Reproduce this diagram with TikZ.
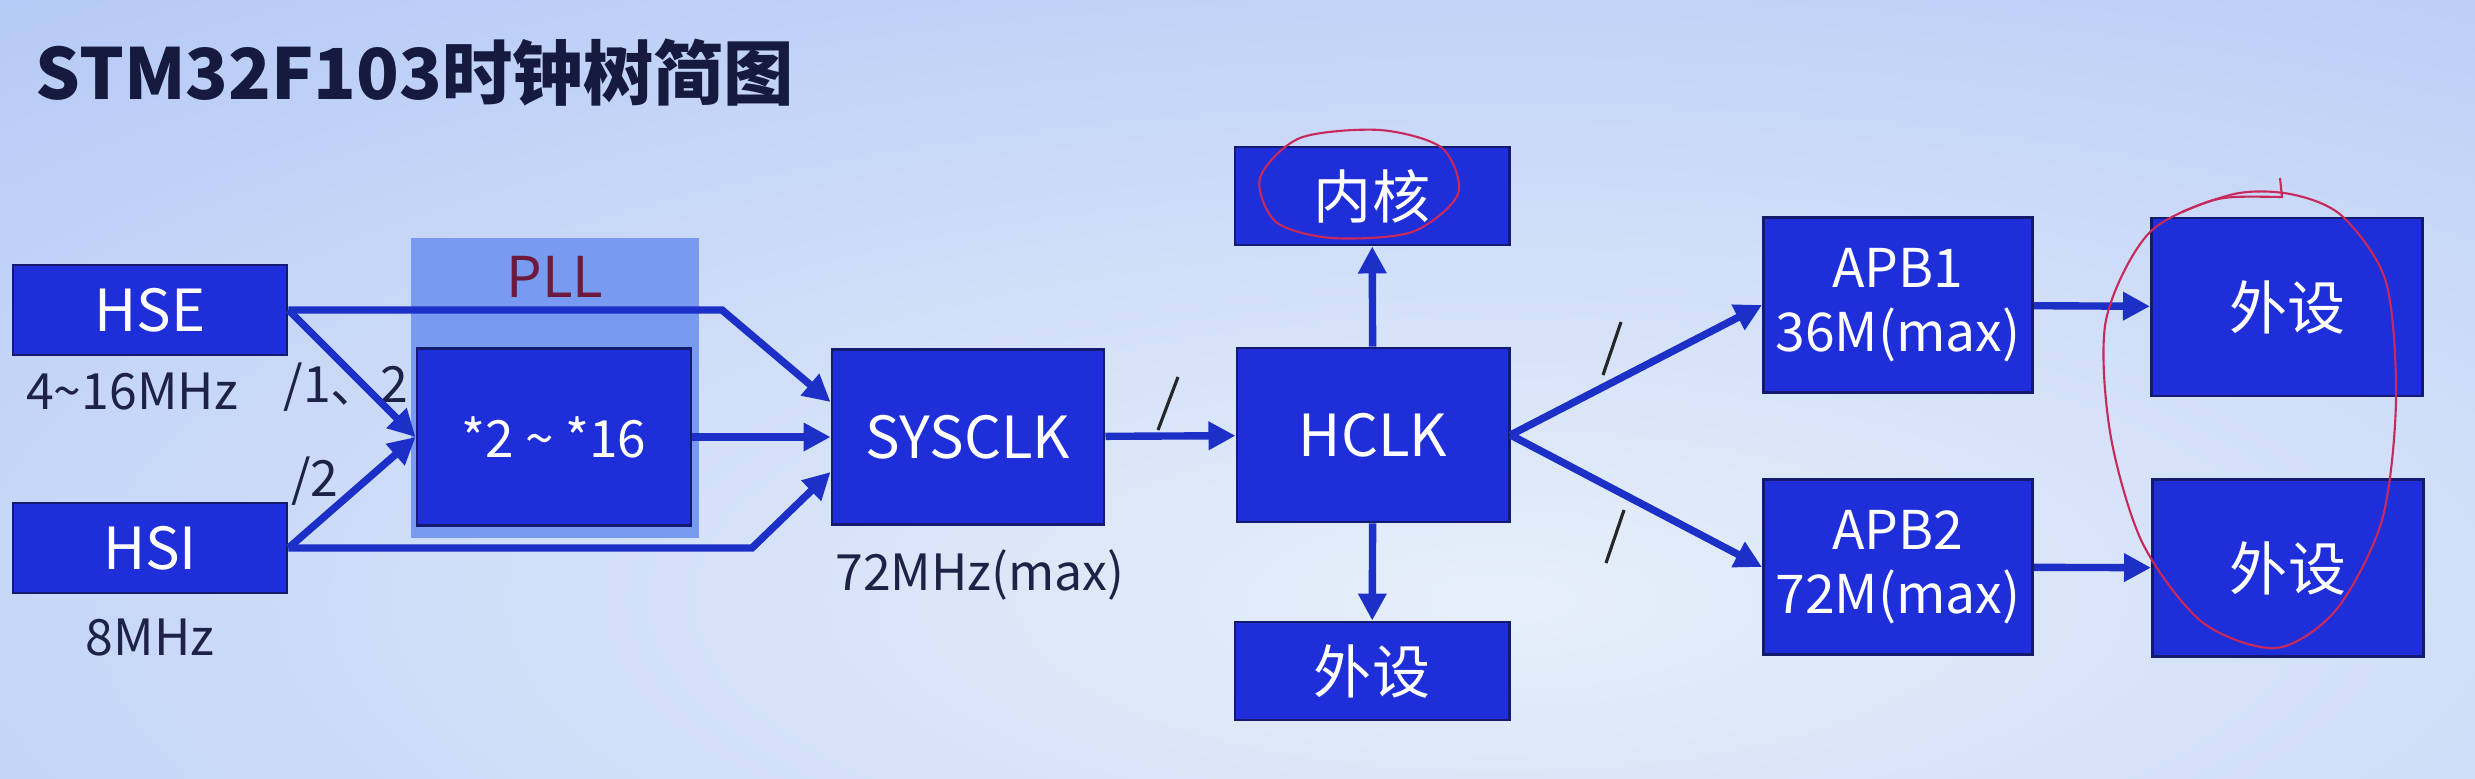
\documentclass[tikz,border=0pt]{standalone}
\usepackage{fontspec}
\setmainfont{Noto Sans CJK SC}
\usetikzlibrary{arrows.meta,positioning}

\definecolor{boxblue}{RGB}{30,46,216}
\definecolor{boxedge}{RGB}{20,26,110}
\definecolor{linkblue}{RGB}{28,48,200}
\definecolor{pllbg}{RGB}{120,154,240}
\definecolor{plltext}{RGB}{110,26,60}
\definecolor{inkred}{RGB}{200,40,90}
\definecolor{titlenavy}{RGB}{22,26,62}
\definecolor{labeltext}{RGB}{30,34,70}
\definecolor{bglight}{RGB}{230,239,249}
\definecolor{bgdark}{RGB}{178,199,246}

\begin{document}
\begin{tikzpicture}[
  x=0.01cm, y=-0.01cm,
  blk/.style={draw=boxedge, line width=0.8pt, fill=boxblue, text=white, inner sep=0pt, align=center, font=\fontsize{16.5}{18}\selectfont},
  group/.style={fill=pllbg, inner sep=0pt, minimum width=2.87cm, minimum height=3cm},
  note/.style={inner sep=0pt, text=labeltext, font=\fontsize{14.2}{16}\selectfont},
  arrow/.style={-{Triangle[length=2.7mm,width=2.7mm]}, line width=2.1pt, draw=linkblue},
  tick/.style={line width=0.9pt, draw=black!85},
  ink/.style={draw=inkred, line width=0.6pt}
]
\useasboundingbox (0,0) rectangle (2475,778);
\begin{scope}
  \clip (0,0) rectangle (2475,778);
  \shade[inner color=bglight, outer color=bgdark] (-900,-250) rectangle (3900,1450);
\end{scope}

\node[anchor=base west, inner sep=0pt, text=titlenavy, font=\fontsize{20}{24}\selectfont\bfseries] (title) at (35,99) {STM32F103时钟树简图};

% sources and PLL
\node[group] (pll) at (555,388) {};
\node[inner sep=0pt, anchor=north, text=plltext, font=\fontsize{16}{18}\selectfont] (plltag) at ([yshift=-1.8mm]pll.north) {PLL};
\node[blk, minimum width=2.74cm, minimum height=0.9cm] (hse) at (150,310) {HSE};
\node[blk, minimum width=2.74cm, minimum height=0.9cm] (hsi) at (150,548) {HSI};
\node[blk, minimum width=2.74cm, minimum height=1.77cm, font=\fontsize{14.6}{16}\selectfont] (mul) at (554,437) {*2 \textasciitilde{} *16};
\node[note, below=1.6mm of hse, xshift=-1.8mm] (hsefreq) {4\textasciitilde16MHz};
\node[note, below=2.4mm of hsi] (hsifreq) {8MHz};
\node[note] (hsediv) at (346,387) {/1、2};
\node[note] (hsidiv) at (315,481) {/2};

% system clock
\node[blk, minimum width=2.72cm, minimum height=1.75cm] (sysclk) at (968,437) {SYSCLK};
\node[note, below=2.3mm of sysclk, xshift=1.2mm] (sysfreq) {72MHz(max)};
\node[blk, minimum width=2.72cm, minimum height=1.74cm] (hclk) at (1373,435) {HCLK};
\node[blk, minimum width=2.74cm, minimum height=0.98cm] (core) at (1372,196) {内核};
\node[blk, minimum width=2.74cm, minimum height=0.98cm] (per0) at (1372,671) {外设};

% buses
\node[blk, minimum width=2.69cm, minimum height=1.75cm, font=\fontsize{15.2}{18}\selectfont] (apb1) at (1898,305) {APB1\\36M(max)};
\node[blk, minimum width=2.69cm, minimum height=1.75cm, font=\fontsize{15.2}{18}\selectfont] (apb2) at (1898,567) {APB2\\72M(max)};
\node[blk, minimum width=2.71cm, minimum height=1.78cm] (per1) at (2287,307) {外设};
\node[blk, minimum width=2.71cm, minimum height=1.77cm] (per2) at (2288,568) {外设};

\coordinate (hsebend) at (722,310);
\coordinate (hsibend) at (752,548);
\draw[arrow] (hse.east) -- (hsebend) -- ([yshift=3.5mm]sysclk.west);
\draw[arrow] (hse.east) -- (mul.west);
\draw[arrow] (hsi.east) -- (mul.west);
\draw[arrow] (hsi.east) -- (hsibend) -- ([yshift=-3.5mm]sysclk.west);
\draw[arrow] (mul) -- (sysclk);
\draw[arrow] (sysclk) -- (hclk);
\draw[arrow] (hclk) -- (core);
\draw[arrow] (hclk) -- (per0);
\draw[arrow] (hclk.east) -- (apb1.west);
\draw[arrow] (hclk.east) -- (apb2.west);
\draw[arrow] (apb1) -- (per1);
\draw[arrow] (apb2) -- (per2);

% prescaler marks
\draw[tick] (1158,430) -- (1178,377);
\draw[tick] (1603,375) -- (1621,322);
\draw[tick] (1606,563) -- (1624,510);

% pen marks
\draw[ink] plot[smooth cycle] coordinates {(1300,138) (1260,178) (1276,222) (1332,238) (1412,232) (1458,194) (1442,148) (1380,130)};
\draw[ink] plot[smooth cycle] coordinates {(2230,195) (2150,232) (2106,320) (2110,432) (2142,542) (2202,622) (2276,648) (2336,610) (2382,520) (2396,400) (2386,282) (2342,216) (2290,194)};
\draw[ink] (2182,212) .. controls (2220,196) .. (2282,197) -- (2280,178);
\end{tikzpicture}
\end{document}
